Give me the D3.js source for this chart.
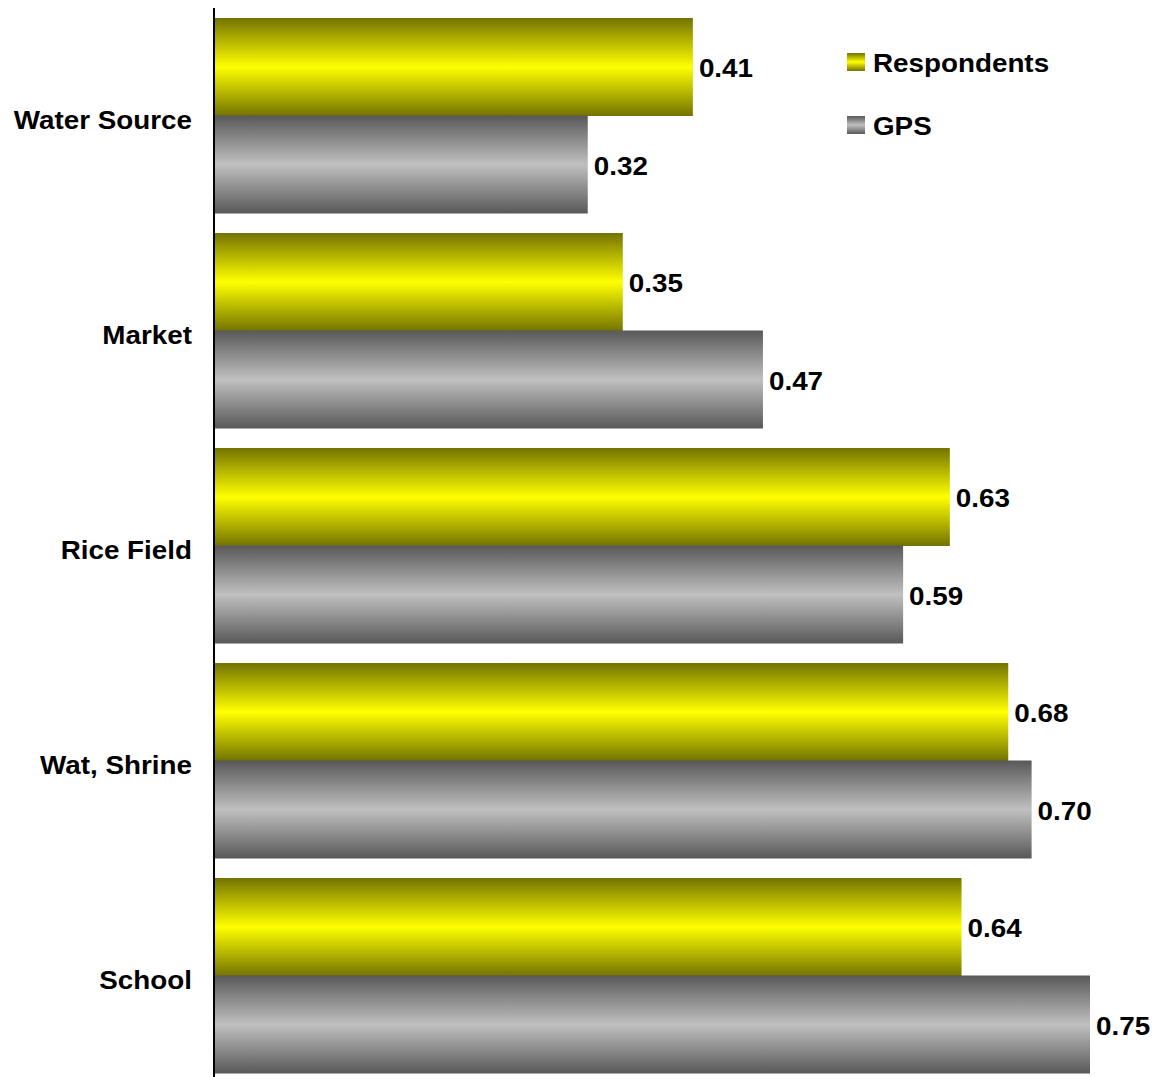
<!DOCTYPE html>
<html><head><meta charset="utf-8">
<script src="https://cdn.jsdelivr.net/npm/d3@7"></script>
<style>body{margin:0;background:#fff}svg{display:block}text{font-family:"Liberation Sans",Arial,sans-serif;font-weight:bold;fill:#000}</style>
</head><body><div id="chart"></div>
<script>
const categories = ["Water Source","Market","Rice Field","Wat, Shrine","School"];
const seriesNames = ["Respondents","GPS"];
const respondents = [0.41,0.35,0.63,0.68,0.64];
const gps = [0.32,0.47,0.59,0.70,0.75];

const W=1152,H=1077,SX=1.07,FS=26;
const svg=d3.select("#chart").append("svg").attr("width",W).attr("height",H);
const defs=svg.append("defs");
function grad(id,edge,mid){
  const g=defs.append("linearGradient").attr("id",id).attr("x1",0).attr("y1",0).attr("x2",0).attr("y2",1);
  g.append("stop").attr("offset","0%").attr("stop-color",edge);
  g.append("stop").attr("offset","50%").attr("stop-color",mid);
  g.append("stop").attr("offset","100%").attr("stop-color",edge);
}
grad("gy","#737300","#ffff00");
grad("gg","#585858","#c0c0c0");
const fills=["url(#gy)","url(#gg)"];

const x0=214;
const x=d3.scaleLinear().domain([0,0.75]).range([x0,x0+876]);
const y=d3.scaleBand().domain(categories).range([8,1083]).paddingInner(20/215).paddingOuter(10/215);
const ys=d3.scaleBand().domain(seriesNames).range([0,y.bandwidth()]);

const data=categories.map((c,i)=>({c,vals:[respondents[i],gps[i]]}));
const g=svg.append("g");
const grp=g.selectAll("g.cat").data(data).join("g").attr("transform",d=>`translate(0,${y(d.c)})`);
grp.selectAll("rect").data(d=>d.vals.map((v,j)=>({v,s:seriesNames[j],j}))).join("rect")
  .attr("x",x(0)).attr("y",d=>ys(d.s)).attr("width",d=>x(d.v)-x(0)).attr("height",ys.bandwidth()+0.5)
  .attr("fill",d=>fills[d.j]);
grp.selectAll("text.val").data(d=>d.vals.map((v,j)=>({v,s:seriesNames[j]}))).join("text")
  .attr("class","val")
  .attr("transform",d=>`translate(${x(d.v)+6},${ys(d.s)+ys.bandwidth()/2+2}) scale(${SX},1)`)
  .attr("dominant-baseline","central").attr("font-size",FS).text(d=>d3.format(".2f")(d.v));

// category axis
const ax=svg.append("g").attr("transform",`translate(${x0},0)`)
  .call(d3.axisLeft(y).tickSize(0).tickPadding(0));
ax.select(".domain").remove();
ax.selectAll("text").attr("font-size",FS).attr("dy",null).attr("x",null).attr("dominant-baseline","central")
  .attr("transform",`translate(-22,5) scale(${SX},1)`)
  .style("font-family",'"Liberation Sans",Arial,sans-serif').style("font-weight","bold");
svg.append("line").attr("x1",x0).attr("x2",x0).attr("y1",8).attr("y2",H).attr("stroke","#000").attr("stroke-width",2);

// legend
const lg=svg.append("g").attr("transform","translate(847,53)");
const li=lg.selectAll("g").data(seriesNames).join("g").attr("transform",(d,i)=>`translate(0,${i*63})`);
li.append("rect").attr("width",18).attr("height",18).attr("fill",(d,i)=>fills[i]);
li.append("text").attr("transform",`translate(26,10) scale(${SX},1)`).attr("dominant-baseline","central").attr("font-size",FS).text(d=>d);
</script></body></html>
